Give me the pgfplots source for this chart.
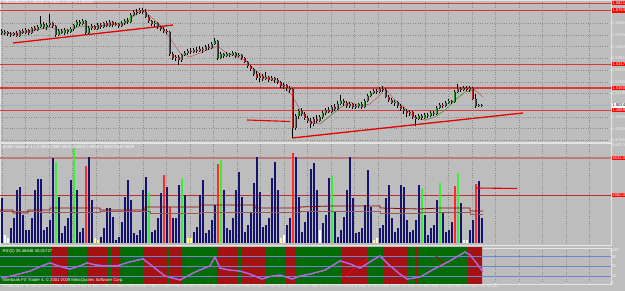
\documentclass[border=0pt]{standalone}
\usepackage{fontspec}
\setmainfont{Liberation Sans}
\usepackage{pgfplots}
\usepackage{pgfplotstable}
\pgfplotsset{compat=1.18}
\definecolor{bg}{HTML}{BDBDBD}
\definecolor{sep}{HTML}{E4E4E4}
\definecolor{gridc}{HTML}{8E8E8E}
\definecolor{bull}{HTML}{2E9E2E}
\definecolor{bear}{HTML}{B82A2A}
\definecolor{lvl}{HTML}{D83A3A}
\definecolor{curp}{HTML}{A9AFC4}
\definecolor{navy}{HTML}{14146E}
\definecolor{vgreen}{HTML}{3CEE3C}
\definecolor{vred}{HTML}{FF2A2A}
\definecolor{vyel}{HTML}{FFFF7A}
\definecolor{vlvl}{HTML}{BC7C7C}
\definecolor{rsig}{HTML}{056B05}
\definecolor{rsir}{HTML}{A41212}
\definecolor{rsiblue}{HTML}{6A84D8}
\definecolor{rsiline}{HTML}{D24FD8}
\definecolor{lab}{HTML}{EDEDED}
\newcommand\tf{\fontsize{4.2}{5}\selectfont}

\pgfplotstableread{
x o h l c v k
1.5 31 29 35 33 45 0
4.5 33 30 35 32 8 3
7.5 32 31 36 34 5 3
10.5 34 32 37 35 15 0
13.5 35 32 36 33 25 0
16.5 33 31 37 36 53 0
19.5 36 30 37 31 56 0
22.5 31 29 34 33 28 0
25.5 33 28 34 30 13 0
28.5 30 29 35 33 13 0
31.5 33 27 34 28 25 0
34.5 28 26 31 30 53 0
37.5 30 25 31 27 64 0
40.5 27 16 28 24 64 0
43.5 24 22 29 27 13 0
46.5 27 23 30 25 16 0
49.5 25 14 27 23 23 0
52.5 23 22 28 26 85 0
55.5 26 25 37 35 81 1
58.5 35 29 36 31 46 0
61.5 31 29 34 33 10 0
64.5 33 28 35 30 17 0
67.5 30 29 34 32 25 0
70.5 32 27 33 29 63 0
73.5 29 24 31 25 95 1
76.5 25 20 27 22 53 0
79.5 22 20 26 24 11 0
82.5 24 19 25 21 15 0
85.5 21 20 35 33 77 2
88.5 33 26 34 28 86 0
91.5 28 24 30 26 43 0
94.5 26 25 30 29 5 4
97.5 29 23 30 25 3 4
100.5 25 23 29 27 6 0
103.5 27 22 28 23 15 0
106.5 23 21 27 26 35 0
109.5 26 20 27 22 35 0
112.5 22 21 27 25 26 0
115.5 25 22 26 24 3 0
118.5 24 23 28 26 6 0
121.5 26 21 27 23 21 0
124.5 23 19 25 21 46 0
127.5 21 18 24 22 63 0
130.5 22 13 23 15 43 0
133.5 15 10 16 12 10 0
136.5 12 9 15 13 8 0
139.5 13 8 14 10 13 0
142.5 10 8 14 12 53 0
145.5 12 9 18 17 66 0
148.5 17 15 23 21 50 1
151.5 21 20 26 24 11 0
154.5 24 21 27 23 13 0
157.5 23 22 29 27 25 0
160.5 27 26 31 29 50 0
163.5 29 27 33 31 68 2
166.5 31 29 34 32 56 0
169.5 32 31 56 54 36 2
172.5 54 52 60 58 25 0
175.5 58 55 61 57 25 0
178.5 57 55 65 60 58 0
181.5 60 54 62 55 65 1
184.5 55 51 56 53 48 0
187.5 53 49 55 51 5 4
190.5 51 48 54 52 5 4
193.5 52 48 53 50 11 0
196.5 50 47 53 51 16 0
199.5 51 46 52 49 48 0
202.5 49 47 53 50 63 0
205.5 50 45 51 47 10 0
208.5 47 44 50 48 13 0
211.5 48 42 49 44 23 0
214.5 44 38 45 41 38 0
217.5 41 40 60 58 79 2
220.5 58 52 59 54 83 1
223.5 54 53 58 56 53 0
226.5 56 52 57 54 15 0
229.5 54 53 57 55 13 0
232.5 55 51 56 53 25 0
235.5 53 52 58 56 53 0
238.5 56 53 57 55 71 0
241.5 55 54 60 58 46 0
244.5 58 57 63 62 11 0
247.5 62 61 68 66 18 0
250.5 66 65 71 69 30 0
253.5 69 68 76 74 60 0
256.5 74 71 80 78 86 0
259.5 78 73 82 76 51 0
262.5 76 74 81 79 16 0
265.5 79 72 80 77 18 0
268.5 77 76 82 80 25 0
271.5 80 76 81 78 65 0
274.5 78 77 83 80 81 0
277.5 80 78 84 82 53 0
280.5 82 81 88 86 5 4
283.5 86 83 89 85 8 3
286.5 85 84 91 88 18 0
289.5 88 86 93 90 25 0
292.5 89 88 138 128 90 2
295.5 128 114 130 116 86 0
298.5 116 109 119 111 46 0
301.5 111 108 116 114 11 0
304.5 114 112 120 118 21 0
307.5 118 116 123 121 31 0
310.5 121 118 128 124 74 0
313.5 124 117 126 119 80 0
316.5 119 115 123 121 53 0
319.5 121 115 122 117 13 3
322.5 117 111 119 113 20 0
325.5 113 108 115 110 28 0
328.5 110 107 113 112 65 0
331.5 112 105 113 107 67 1
334.5 107 104 111 109 31 0
337.5 109 101 110 104 6 0
340.5 104 95 105 101 13 0
343.5 101 99 106 103 26 0
346.5 103 101 108 106 53 0
349.5 106 102 108 104 86 0
352.5 104 103 109 107 45 0
355.5 107 104 109 106 10 0
358.5 106 103 108 104 11 0
361.5 104 102 109 107 15 0
364.5 107 99 108 101 38 0
367.5 101 94 102 96 73 0
370.5 96 91 97 93 36 0
373.5 93 89 94 91 3 4
376.5 91 89 94 92 5 3
379.5 92 87 93 89 15 0
382.5 89 86 92 90 18 0
385.5 90 88 98 97 45 0
388.5 97 95 102 100 58 0
391.5 100 98 104 103 25 0
394.5 103 100 106 102 11 0
397.5 102 101 108 106 15 0
400.5 106 104 111 109 58 0
403.5 109 107 114 111 56 0
406.5 111 109 117 113 23 0
409.5 113 110 116 112 11 0
412.5 112 111 119 117 13 0
415.5 117 115 126 119 23 0
418.5 119 114 120 116 58 0
421.5 116 114 120 118 55 1
424.5 118 113 119 115 28 0
427.5 115 113 118 116 8 0
430.5 116 111 117 113 15 0
433.5 113 111 116 114 18 0
436.5 114 106 115 108 43 0
439.5 108 103 109 105 60 1
442.5 105 103 108 106 31 0
445.5 106 101 107 103 11 0
448.5 103 99 104 101 13 0
451.5 101 100 104 102 21 0
454.5 102 90 103 92 57 2
457.5 92 84 93 89 70 1
460.5 89 87 92 90 40 0
463.5 90 86 91 88 3 3
466.5 88 86 91 90 3 3
469.5 90 86 92 88 13 0
472.5 88 87 100 99 23 0
475.5 99 94 108 106 59 2
478.5 106 104 107 105 62 0
481.5 105 104 107 105.5 25 0
}\candles

\pgfplotstableread{
x r
1.5 15
15 24
30 36
42 52
50 61
58 52
70 42
80 52
87 61
95 55
105 52
117 52
130 64
143 73
152 52
165 21
180 9
195 33
210 52
215 79
220 45
230 39
240 36
250 27
262 12
272 21
280 24
292 12
300 21
310 27
325 39
340 67
350 58
360 45
370 64
380 82
390 52
400 27
407 12
420 18
432 39
450 67
465 94
470 85
477 58
483 33
}\rsi

\pgfplotsset{
  mtpanel/.style={
    scale only axis, width=611pt, xmin=0, xmax=611,
    axis line style={draw=sep, line width=0.7pt},
    xtick={2,25.5,49,72.5,96,119.5,143,166.5,190,213.5,237,260.5,284,307.5,331,354.5,378,401.5,425,448.5,472,495.5,519,542.5,566,589.5},
    xmajorgrids, major grid style={draw=gridc, dotted, line width=0.45pt},
    clip mode=individual,
    tick style={draw=sep, line width=0.4pt},
    ytick pos=right, yticklabel pos=right,
    yticklabel style={font=\tf, text=lab, inner sep=0.6pt, anchor=west},
  },
}

\begin{document}
\begin{tikzpicture}[x=1pt,y=1pt]
\useasboundingbox (0pt,0pt) rectangle (625pt,291pt);
\fill[bg] (0pt,0pt) rectangle (625pt,291pt);

% ---------------- price panel ----------------
\begin{axis}[mtpanel, at={(0pt,149pt)}, anchor=south west, height=142pt,
  y dir=reverse, ymin=0, ymax=142,
  xticklabels={}, major x tick style={draw=none},
  ymajorgrids,
  ytick={23.3,35,46.7,58.4,70.1,81.8,93.5,116.9,128.6,140.3},
  yticklabels={1.56640,1.55730,1.54820,1.53910,1.53000,1.52090,1.51180,1.49360,1.48450,1.47540},
  major tick length=1.5pt]
% levels
\addplot[lvl, line width=0.8pt, forget plot] coordinates {(0,3) (611,3)};
\addplot[lvl, line width=1.8pt, forget plot] coordinates {(0,10.5) (611,10.5)};
\addplot[lvl, line width=0.9pt, forget plot] coordinates {(0,64) (611,64)};
\addplot[lvl, line width=1.6pt, forget plot] coordinates {(0,88) (611,88)};
\addplot[lvl, line width=0.9pt, forget plot] coordinates {(0,110) (611,110)};
\addplot[curp, line width=0.7pt, forget plot] coordinates {(0,105.5) (611,105.5)};
% moving average
\addplot[color=bear!80!white, line width=0.5pt, forget plot] coordinates {
(1.5,34) (20,33) (35,30) (50,27) (60,30) (70,30) (80,26) (90,27) (100,26) (115,24) (125,23) (135,15) (142,10) (150,16) (160,25) (170,38) (180,53) (190,57) (200,53) (210,49) (218,46) (225,52) (235,56) (245,60) (255,70) (265,78) (280,83) (292,95) (300,110) (310,122) (320,124) (330,116) (340,108) (350,102) (360,106) (370,104) (380,95) (385,88) (393,98) (405,108) (415,118) (425,120) (435,117) (445,110) (455,100) (465,92) (475,90) (483,97)};
\addplot[color=bull!90!white, line width=0.5pt, forget plot] coordinates {(20,33) (35,30) (50,27)};
\addplot[color=bull!90!white, line width=0.5pt, forget plot] coordinates {(70,30) (80,26) (90,27) (100,26) (115,24) (125,23) (135,15) (142,10)};
\addplot[color=bull!90!white, line width=0.5pt, forget plot] coordinates {(320,124) (330,116) (340,108) (350,102)};
\addplot[color=bull!90!white, line width=0.5pt, forget plot] coordinates {(425,120) (435,117) (445,110) (455,100) (465,92) (475,90)};
% trend lines
\addplot[color=red!90!black, line width=1.3pt, forget plot] coordinates {(13,43) (173,25)};
\addplot[color=red!90!black, line width=1.3pt, forget plot] coordinates {(292,138) (523,113)};
\addplot[color=red!90!black, line width=1.1pt, forget plot] coordinates {(247,120) (290,121.5)};
% candles: wicks, outlines, bodies
\addplot[black, line width=0.45pt, mark=none, forget plot,
  quiver={u=0, v=\thisrow{l}-\thisrow{h}}] table[x=x, y=h] {\candles};
\addplot[black!85, line width=2.0pt, mark=none, forget plot,
  quiver={u=0, v=abs(\thisrow{o}-\thisrow{c})+0.6}] table[x=x, y expr={min(\thisrow{o},\thisrow{c})-0.3}] {\candles};
\addplot[bull, line width=1.5pt, mark=none, forget plot,
  restrict expr to domain={\thisrow{o}-\thisrow{c}}{0.01:1000},
  quiver={u=0, v=\thisrow{o}-\thisrow{c}-0.2}] table[x=x, y expr={\thisrow{c}+0.1}] {\candles};
\addplot[bear, line width=1.5pt, mark=none, forget plot,
  restrict expr to domain={\thisrow{c}-\thisrow{o}}{0.01:1000},
  quiver={u=0, v=\thisrow{c}-\thisrow{o}-0.2}] table[x=x, y expr={\thisrow{o}+0.1}] {\candles};
% texts and labels
\node[anchor=north west, font=\tf, text=white, inner sep=0.5pt] at (axis cs:2,0.3) {GBPUSD,H4~~1.50340 1.50620 1.50170 1.50247};
\node[anchor=west, font=\tf, fill=red, text=white, inner sep=0.6pt] at (axis cs:611.5,3) {1.58219};
\node[anchor=west, font=\tf, fill=red, text=white, inner sep=0.6pt] at (axis cs:611.5,10.5) {1.57636};
\node[anchor=west, font=\tf, fill=red, text=white, inner sep=0.6pt] at (axis cs:611.5,64) {1.53474};
\node[anchor=west, font=\tf, fill=red, text=white, inner sep=0.6pt] at (axis cs:611.5,88) {1.51608};
\node[anchor=west, font=\tf, fill=white, text=black, inner sep=0.6pt] at (axis cs:611.5,105.5) {1.50247};
\node[anchor=west, font=\tf, fill=red, text=white, inner sep=0.6pt] at (axis cs:611.5,110) {1.49897};
\end{axis}

% ---------------- volume panel ----------------
\begin{axis}[mtpanel, at={(0pt,46pt)}, anchor=south west, height=102pt,
  ymin=-2, ymax=100, xticklabels={}, major x tick style={draw=none},
  ytick=\empty]
\addplot[color=vlvl, line width=1.4pt, forget plot] coordinates {(0,85) (611,85)};
\addplot[color=lvl!85!black, line width=0.7pt, forget plot] coordinates {(0,48) (611,48)};
\addplot[ycomb, navy, line width=2pt, mark=none, forget plot, restrict expr to domain={\thisrow{k}}{0:0}] table[x=x, y=v] {\candles};
\addplot[ycomb, vgreen, line width=2pt, mark=none, forget plot, restrict expr to domain={\thisrow{k}}{1:1}] table[x=x, y=v] {\candles};
\addplot[ycomb, vred, line width=2pt, mark=none, forget plot, restrict expr to domain={\thisrow{k}}{2:2}] table[x=x, y=v] {\candles};
\addplot[ycomb, white, line width=2pt, mark=none, forget plot, restrict expr to domain={\thisrow{k}}{3:3}] table[x=x, y=v] {\candles};
\addplot[ycomb, vyel, line width=2pt, mark=none, forget plot, restrict expr to domain={\thisrow{k}}{4:4}] table[x=x, y=v] {\candles};
\addplot[color=bear!45!gray, line width=0.9pt, forget plot] coordinates {(0,32) (40,32) (40,31) (100,31) (100,32) (150,32) (150,30) (200,30) (200,31) (300,31) (300,32) (380,32) (380,30) (420,30) (420,31) (470,31) (470,29) (483,29)};
\addplot[color=red!55!black, line width=0.8pt, forget plot] coordinates {(0,33) (13,33) (13,30) (28,30) (28,33) (50,33) (50,35) (100,35) (100,33) (145,33) (145,36) (200,36) (200,38) (255,38) (255,35) (300,35) (300,36) (330,37) (380,37) (380,35) (420,34) (440,35) (470,35) (470,32) (483,32)};
\addplot[color=red!90!black, line width=1.1pt, forget plot] coordinates {(476,55) (517,54.5)};
\node[anchor=north west, font=\tf, text=white, inner sep=0.5pt] at (axis cs:2,98.5) {Better Volume 1.1 0.0000 2980.0000 0.0000 0.0000 0.0000 5442.0000};
\node[anchor=north west, font=\tf, text=lab, inner sep=0.5pt] at (axis cs:611.5,100) {5442.0};
\node[anchor=west, font=\tf, fill=red, text=white, inner sep=0.6pt] at (axis cs:611.5,85) {4632.0};
\node[anchor=west, font=\tf, fill=red, text=white, inner sep=0.6pt] at (axis cs:611.5,48) {2980.0};
\end{axis}

% ---------------- RSI panel ----------------
\begin{axis}[mtpanel, at={(0pt,7pt)}, anchor=south west, height=36pt,
  ymin=-3.03, ymax=106.06,
  ytick={0,20,50,80,100}, yticklabels={0,20,50,80,100},
  xtick pos=bottom, major tick length=1.2pt,
  xticklabels={5 Feb 2010,8 Feb 20:00,10 Feb 04:00,11 Feb 12:00,12 Feb 20:00,16 Feb 04:00,17 Feb 12:00,18 Feb 20:00,22 Feb 04:00,23 Feb 12:00,24 Feb 20:00,26 Feb 04:00,1 Mar 12:00,2 Mar 20:00,4 Mar 04:00,5 Mar 12:00,8 Mar 20:00,10 Mar 04:00,11 Mar 12:00,12 Mar 20:00,16 Mar 04:00,,,,,},
  xticklabel style={font=\tf, text=lab, anchor=north west, inner sep=0.5pt, yshift=-0.2pt}]
\addplot[fill=rsig, draw=none, forget plot] coordinates {(0,-10) (0,120) (482,120) (482,-10)};
\addplot[fill=rsir, draw=none, forget plot] coordinates {(52,-10) (52,120) (68,120) (68,-10) (87,-10) (87,120) (108,120) (108,-10) (112,-10) (112,120) (120,120) (120,-10) (143,-10) (143,120) (167,120) (167,-10) (170,-10) (170,120) (182,120) (182,-10) (217,-10) (217,120) (238,120) (238,-10) (242,-10) (242,120) (265,120) (265,-10) (285,-10) (285,120) (295,120) (295,-10) (342,-10) (342,120) (367,120) (367,-10) (383,-10) (383,120) (407,120) (407,-10) (415,-10) (415,120) (418,120) (418,-10) (468,-10) (468,120) (482,120) (482,-10)};
\addplot[rsiblue, line width=0.9pt, forget plot] coordinates {(0,80) (611,80)};
\addplot[rsiblue, line width=0.9pt, forget plot] coordinates {(0,50) (611,50)};
\addplot[rsiblue, line width=0.9pt, forget plot] coordinates {(0,20) (611,20)};
\addplot[red, line width=0.8pt, forget plot] coordinates {(342,15) (368,76)};
\addplot[red!70!black, line width=0.8pt, forget plot] coordinates {(435,85) (445,55)};
\addplot[color=blue!45!white, line width=1.3pt, forget plot] table[x=x, y=r] {\rsi};
\addplot[color=rsiline, line width=0.7pt, forget plot] table[x=x, y=r] {\rsi};
\node[anchor=north west, font=\tf, text=white, inner sep=0.5pt] at (axis cs:2,104) {RSI(2) 35.46646 40.01727};
\node[anchor=south west, font=\tf, text=white, inner sep=0.5pt] at (axis cs:2,-1) {Interbank FX Trader 4, © 2001-2009 MetaQuotes Software Corp.};
\end{axis}
\end{tikzpicture}
\end{document}
